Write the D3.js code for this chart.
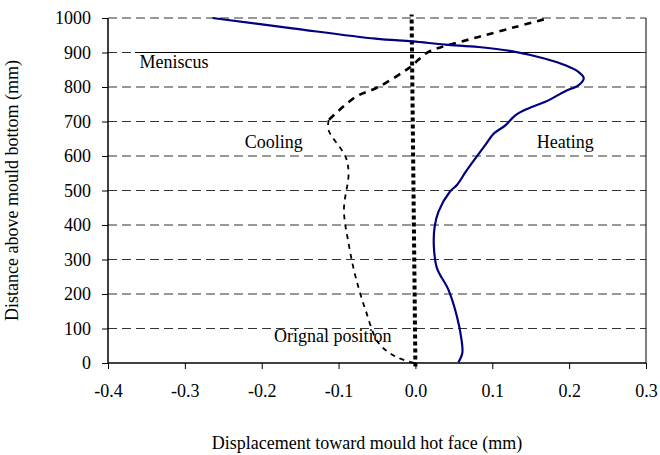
<!DOCTYPE html>
<html>
<head>
<meta charset="utf-8">
<script src="https://cdn.jsdelivr.net/npm/d3@7"></script>
<style>
  body { margin: 0; background: #fff; }
  svg text { font-family: "Liberation Serif", "Times New Roman", "DejaVu Serif", serif; fill: #000; }
</style>
</head>
<body>
<div id="chart"></div>
<script>
// data: [displacement mm, height mm]
var heating = [
  [-0.264, 1000], [-0.16, 970], [-0.052, 940], [-0.004, 932], [0.039, 923], [0.082, 916],
  [0.125, 904], [0.169, 882], [0.195, 863], [0.212, 844], [0.219, 826], [0.212, 805],
  [0.195, 788], [0.169, 757], [0.147, 738], [0.130, 718], [0.117, 689], [0.102, 665],
  [0.091, 632], [0.078, 593], [0.066, 556], [0.054, 516], [0.045, 497], [0.030, 439],
  [0.025, 395], [0.024, 337], [0.028, 275], [0.043, 212], [0.054, 135], [0.060, 67],
  [0.061, 29], [0.056, 2]
];
var cooling = [
  [0.167, 996], [0.130, 974], [0.082, 945], [0.039, 919], [0.017, 902], [-0.004, 863],
  [-0.009, 854], [-0.048, 800], [-0.078, 771], [-0.113, 704], [-0.113, 675], [-0.091, 598],
  [-0.087, 550], [-0.093, 444], [-0.087, 347], [-0.078, 251], [-0.065, 154], [-0.048, 58],
  [-0.026, 19], [-0.002, 0]
];
var original = [[0.0, -10], [-0.005, 1010]];
var meniscus = [[-0.365, 900], [0.293, 900]];

var xTicks = [-0.4, -0.3, -0.2, -0.1, 0.0, 0.1, 0.2, 0.3];
var yTicks = [0, 100, 200, 300, 400, 500, 600, 700, 800, 900, 1000];
var notes = [
  {text: "Meniscus", x: -0.359, y: 855},
  {text: "Cooling", x: -0.222, y: 624},
  {text: "Heating", x: 0.158, y: 624},
  {text: "Orignal position", x: -0.184, y: 62}
];

var width = 660, height = 455;
var margin = {left: 108, right: 14, top: 18, bottom: 92};
var fontSize = "18px";

var svg = d3.select("#chart").append("svg")
  .attr("width", width)
  .attr("height", height);

var x = d3.scaleLinear().domain([-0.4, 0.3]).range([margin.left, width - margin.right]);
var y = d3.scaleLinear().domain([0, 1000]).range([height - margin.bottom, margin.top]);

// gridlines
svg.append("g")
  .selectAll("line")
  .data(yTicks.filter(function(d) { return d > 0; }))
  .enter().append("line")
    .attr("x1", x(-0.4)).attr("x2", x(0.3))
    .attr("y1", function(d) { return y(d); })
    .attr("y2", function(d) { return y(d); })
    .attr("stroke", "#333")
    .attr("stroke-width", 1)
    .attr("stroke-dasharray", "9,5");

// right border
svg.append("line")
  .attr("x1", x(0.3)).attr("x2", x(0.3))
  .attr("y1", y(1000)).attr("y2", y(0))
  .attr("stroke", "#000");

var line = d3.line()
  .x(function(d) { return x(d[0]); })
  .y(function(d) { return y(d[1]); });

var smooth = d3.line()
  .curve(d3.curveCatmullRom)
  .x(function(d) { return x(d[0]); })
  .y(function(d) { return y(d[1]); });

svg.append("path")
  .datum(meniscus)
  .attr("d", line)
  .attr("fill", "none")
  .attr("stroke", "#000")
  .attr("stroke-width", 1);

svg.append("path")
  .datum(original)
  .attr("d", line)
  .attr("fill", "none")
  .attr("stroke", "#000")
  .attr("stroke-width", 4)
  .attr("stroke-dasharray", "4,3");

// cooling: upper part drawn a bit heavier, like the reference
svg.append("path")
  .datum(cooling.slice(0, 10))
  .attr("d", smooth)
  .attr("fill", "none")
  .attr("stroke", "#000")
  .attr("stroke-width", 2.6)
  .attr("stroke-dasharray", "7,6");

svg.append("path")
  .datum(cooling.slice(9))
  .attr("d", smooth)
  .attr("fill", "none")
  .attr("stroke", "#000")
  .attr("stroke-width", 1.8)
  .attr("stroke-dasharray", "5,5");

svg.append("path")
  .datum(heating)
  .attr("d", smooth)
  .attr("fill", "none")
  .attr("stroke", "#000080")
  .attr("stroke-width", 2.2);

// axes
var fmtX = function(d) { return d3.format(".1f")(d).replace("\u2212", "-"); };

var xAxis = svg.append("g")
  .attr("transform", "translate(0," + y(0) + ")")
  .call(d3.axisBottom(x).tickValues(xTicks).tickSize(6).tickPadding(15).tickFormat(fmtX));

var yAxis = svg.append("g")
  .attr("transform", "translate(" + x(-0.4) + ",0)")
  .call(d3.axisLeft(y).tickValues(yTicks).tickSize(6).tickPadding(11).tickFormat(d3.format("d")));

[xAxis, yAxis].forEach(function(g) {
  g.attr("font-family", null).attr("font-size", null);
  g.select(".domain").attr("stroke", "#000").attr("stroke-width", 1.5);
  g.selectAll(".tick line").attr("stroke", "#000");
  g.selectAll(".tick text")
    .style("font-size", fontSize)
    .attr("fill", "#000");
});
xAxis.selectAll(".domain").attr("d", "M" + x(-0.4) + ",0H" + x(0.3));
yAxis.selectAll(".domain").attr("d", "M0," + y(0) + "V" + y(1000));

// annotations
svg.selectAll(".note")
  .data(notes)
  .enter().append("text")
    .attr("class", "note")
    .attr("x", function(d) { return x(d.x); })
    .attr("y", function(d) { return y(d.y); })
    .style("font-size", fontSize)
    .text(function(d) { return d.text; });

// axis titles
svg.append("text")
  .attr("x", 367)
  .attr("y", 449)
  .attr("text-anchor", "middle")
  .style("font-size", fontSize)
  .text("Displacement toward mould hot face (mm)");

svg.append("g")
  .attr("transform", "translate(18," + (y(500)) + ")")
  .append("text")
    .attr("transform", "rotate(-90)")
    .attr("text-anchor", "middle")
    .style("font-size", fontSize)
    .text("Distance above mould bottom (mm)");
</script>
</body>
</html>
